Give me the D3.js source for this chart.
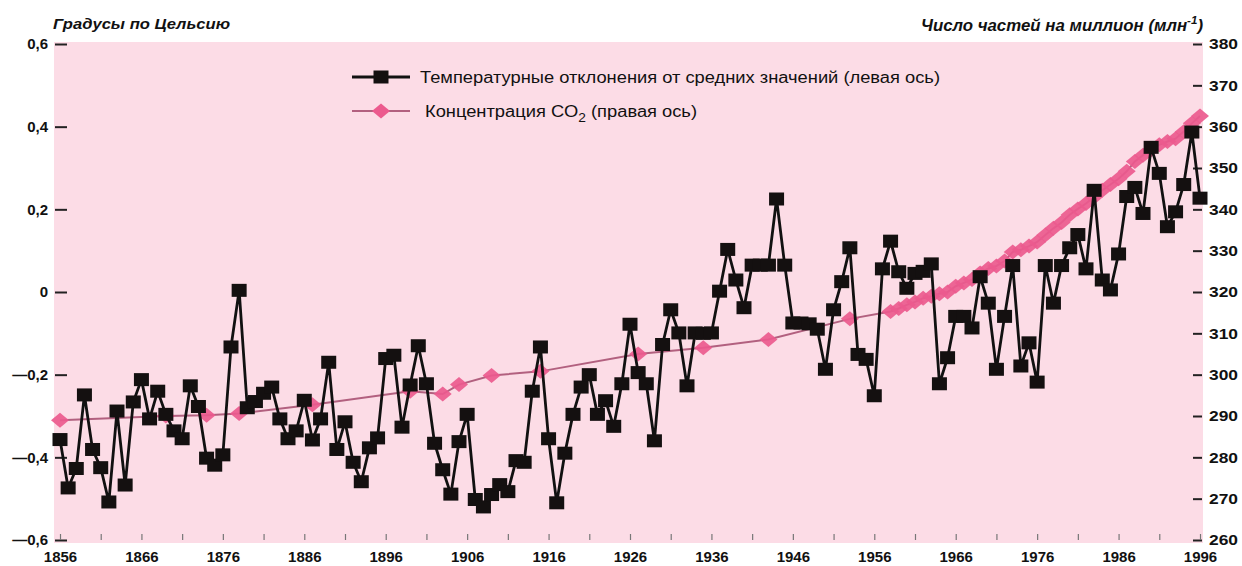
<!DOCTYPE html>
<html>
<head>
<meta charset="utf-8">
<script src="https://cdn.jsdelivr.net/npm/d3@7"></script>
<style>
  html, body { margin: 0; padding: 0; background: #ffffff; }
  svg { display: block; }
  text { font-family: "Liberation Sans", Arial, "DejaVu Sans", sans-serif; fill: #111; }
</style>
</head>
<body>
<svg id="chart" width="1242" height="566"></svg>
<script>
// ---------------- DATA ----------------
const firstYear = 1856;
const lastYear = 1996;
// Global temperature deviations, °C (left axis), one value per year 1856..1996
const temperature = [
  -0.357, -0.474, -0.427, -0.249, -0.381, -0.425, -0.508, -0.288, -0.467, -0.266, // 1856-1865
  -0.212, -0.307, -0.240, -0.296, -0.336, -0.355, -0.227, -0.277, -0.402, -0.419, // 1866-1875
  -0.394, -0.133,  0.004, -0.280, -0.265, -0.245, -0.230, -0.307, -0.355, -0.336, // 1876-1885
  -0.262, -0.358, -0.307, -0.170, -0.381, -0.314, -0.412, -0.459, -0.377, -0.353, // 1886-1895
  -0.161, -0.153, -0.327, -0.225, -0.130, -0.222, -0.366, -0.430, -0.489, -0.362, // 1896-1905
  -0.296, -0.502, -0.520, -0.490, -0.466, -0.483, -0.408, -0.412, -0.240, -0.133, // 1906-1915
  -0.355, -0.510, -0.390, -0.296, -0.230, -0.200, -0.296, -0.263, -0.325, -0.222, // 1916-1925
  -0.078, -0.195, -0.222, -0.360, -0.127, -0.043, -0.099, -0.227, -0.099, -0.100, // 1926-1935
  -0.099,  0.002,  0.103,  0.029, -0.038,  0.065,  0.065,  0.065,  0.225,  0.065, // 1936-1945
  -0.075, -0.075, -0.077, -0.090, -0.187, -0.043,  0.025,  0.107, -0.151, -0.163, // 1946-1955
  -0.251,  0.056,  0.123,  0.049,  0.009,  0.045,  0.050,  0.068, -0.222, -0.159, // 1956-1965
  -0.059, -0.059, -0.087,  0.037, -0.027, -0.187, -0.059,  0.064, -0.179, -0.123, // 1966-1975
  -0.218,  0.064, -0.027,  0.064,  0.107,  0.139,  0.056,  0.246,  0.029,  0.005, // 1976-1985
   0.092,  0.231,  0.253,  0.190,  0.350,  0.287,  0.158,  0.194,  0.260,  0.387, // 1986-1995
   0.227                                                                          // 1996
];
// CO2 concentration, ppm (right axis)
const co2Years = [
  1856, 1869, 1874, 1878, 1887, 1899, 1903, 1905, 1909, 1915, 1927, 1935, 1943, 1953,
  1958, 1959, 1960, 1961, 1962, 1963, 1964, 1965, 1966, 1967, 1968, 1969, 1970,
  1971, 1972, 1973, 1974, 1975, 1976, 1977, 1978, 1979, 1980, 1981, 1982, 1983,
  1984, 1985, 1986, 1987, 1988, 1989, 1990, 1991, 1992, 1993, 1994, 1995, 1996
];
const co2Values = [
  289.0, 290.0, 290.2, 290.6, 292.7, 296.0, 295.3, 297.6, 299.8, 300.8, 305.0, 306.5, 308.5, 313.5,
  315.3, 316.0, 316.9, 317.6, 318.5, 319.0, 319.6, 320.0, 321.4, 322.2, 323.0, 324.6, 325.7,
  326.3, 327.5, 329.7, 330.2, 331.1, 332.1, 333.8, 335.4, 336.8, 338.7, 340.1, 341.4, 343.0,
  344.6, 346.0, 347.4, 349.2, 351.6, 353.1, 354.4, 355.6, 356.4, 357.1, 358.8, 360.8, 362.6
];
const xTickYears = [1856, 1866, 1876, 1886, 1896, 1906, 1916, 1926, 1936, 1946, 1956, 1966, 1976, 1986, 1996];
const xMinorYears = d3.range(1856, 1997, 5);
const leftTicks = [-0.6, -0.4, -0.2, 0, 0.2, 0.4, 0.6];
const rightTicks = [260, 270, 280, 290, 300, 310, 320, 330, 340, 350, 360, 370, 380];
const leftTitle = "Градусы по Цельсию";
const rightTitleMain = "Число частей на миллион (млн";
const rightTitleSup = "-1";
const legendTemp = "Температурные отклонения от средних значений (левая ось)";
const legendCo2A = "Концентрация CO";
const legendCo2Sub = "2";
const legendCo2B = "  (правая ось)";

// ---------------- LAYOUT ----------------
const svg = d3.select("#chart");
const plot = { left: 54, right: 1203, top: 42, bottom: 543 };
const x = d3.scaleLinear().domain([firstYear, lastYear]).range([60, 1200]);
const yL = d3.scaleLinear().domain([-0.6, 0.6]).range([540, 44]);
const yR = d3.scaleLinear().domain([260, 380]).range([540, 44]);

const pink = "#fcdce6";
const co2Color = "#ec5a8e";
const co2Line = "#b2607f";

svg.append("rect")
  .attr("x", plot.left).attr("y", plot.top)
  .attr("width", plot.right - plot.left).attr("height", plot.bottom - plot.top)
  .attr("fill", pink);

const fmtLeft = v => v === 0 ? "0" : (v < 0 ? "\u2014" : "") + Math.abs(v).toFixed(1).replace(".", ",");

// Left axis
const gL = svg.append("g").attr("transform", "translate(67,0)")
  .call(d3.axisLeft(yL).tickValues(leftTicks).tickSize(12).tickPadding(7).tickFormat(fmtLeft));
gL.select(".domain").remove();
gL.selectAll(".tick line").attr("stroke", "#222").attr("stroke-width", 2);
gL.selectAll(".tick text").attr("font-size", 15).attr("font-weight", "bold").attr("fill", "#111");

// Right axis
const gR = svg.append("g").attr("transform", "translate(1193,0)")
  .call(d3.axisRight(yR).tickValues(rightTicks).tickSize(9).tickPadding(7).tickFormat(d3.format("d")));
gR.select(".domain").remove();
gR.selectAll(".tick line").attr("stroke", "#222").attr("stroke-width", 2);
gR.selectAll(".tick text").attr("font-size", 15).attr("font-weight", "bold").attr("fill", "#111")
  .attr("textLength", 29).attr("lengthAdjust", "spacingAndGlyphs");

// Bottom axis labels
const gB = svg.append("g").attr("transform", "translate(0," + plot.bottom + ")")
  .call(d3.axisBottom(x).tickValues(xTickYears).tickSize(0).tickPadding(8).tickFormat(d3.format("d")));
gB.select(".domain").remove();
gB.selectAll(".tick text").attr("font-size", 15).attr("font-weight", "bold").attr("fill", "#111");

// Minor ticks inside plot at bottom
const gM = svg.append("g").attr("transform", "translate(0,540)")
  .call(d3.axisBottom(x).tickValues(xMinorYears).tickSize(-6).tickFormat(""));
gM.select(".domain").remove();
gM.selectAll(".tick line").attr("stroke", "#777").attr("stroke-width", 1.2);

// Titles
svg.append("text").attr("x", 53).attr("y", 29)
  .attr("font-size", 15).attr("font-style", "italic").attr("font-weight", "bold")
  .attr("textLength", 177).attr("lengthAdjust", "spacingAndGlyphs")
  .text(leftTitle);
const rt = svg.append("text").attr("x", 921).attr("y", 31)
  .attr("font-size", 16).attr("font-style", "italic").attr("font-weight", "bold")
  .attr("textLength", 282).attr("lengthAdjust", "spacingAndGlyphs");
rt.append("tspan").text(rightTitleMain);
rt.append("tspan").attr("font-size", 11).attr("dy", -7).text(rightTitleSup);
rt.append("tspan").attr("dy", 7).text(")");

// ---------------- SERIES ----------------
const tempData = temperature.map((v, i) => ({ year: firstYear + i, value: v }));
const co2Data = co2Years.map((yr, i) => ({ year: yr, value: co2Values[i] }));

const diamond = "M0,-7.5L9,0L0,7.5L-9,0Z";

// CO2 line + diamonds
svg.append("path").datum(co2Data)
  .attr("fill", "none").attr("stroke", co2Line).attr("stroke-width", 2)
  .attr("d", d3.line().x(d => x(d.year)).y(d => yR(d.value)));
svg.append("g").selectAll("path").data(co2Data).join("path")
  .attr("d", diamond)
  .attr("transform", d => `translate(${x(d.year)},${yR(d.value)})`)
  .attr("fill", co2Color).attr("fill-opacity", 0.92);

// Temperature line + squares
svg.append("path").datum(tempData)
  .attr("fill", "none").attr("stroke", "#111").attr("stroke-width", 2.8)
  .attr("stroke-linejoin", "round")
  .attr("d", d3.line().x(d => x(d.year)).y(d => yL(d.value)));
svg.append("g").selectAll("rect").data(tempData).join("rect")
  .attr("x", d => x(d.year) - 7.5).attr("y", d => yL(d.value) - 6.5)
  .attr("width", 15).attr("height", 13)
  .attr("fill", "#141010");

// ---------------- LEGEND ----------------
const lg = svg.append("g");
lg.append("line").attr("x1", 352).attr("x2", 410).attr("y1", 77).attr("y2", 77)
  .attr("stroke", "#111").attr("stroke-width", 2.8);
lg.append("rect").attr("x", 373.5).attr("y", 70.5).attr("width", 15).attr("height", 13).attr("fill", "#141010");
lg.append("text").attr("x", 420).attr("y", 77).attr("dy", "0.35em")
  .attr("font-size", 16).attr("textLength", 520).attr("lengthAdjust", "spacingAndGlyphs")
  .text(legendTemp);

lg.append("line").attr("x1", 352).attr("x2", 410).attr("y1", 111).attr("y2", 111)
  .attr("stroke", co2Line).attr("stroke-width", 2);
lg.append("path").attr("d", diamond).attr("transform", "translate(381,111)").attr("fill", co2Color);
const lt = lg.append("text").attr("x", 425).attr("y", 111).attr("dy", "0.35em").attr("font-size", 16)
  .attr("textLength", 272).attr("lengthAdjust", "spacingAndGlyphs");
lt.append("tspan").text(legendCo2A);
lt.append("tspan").attr("font-size", 12).attr("dy", 5).text(legendCo2Sub);
lt.append("tspan").attr("dy", -5).text(legendCo2B);
</script>
</body>
</html>
